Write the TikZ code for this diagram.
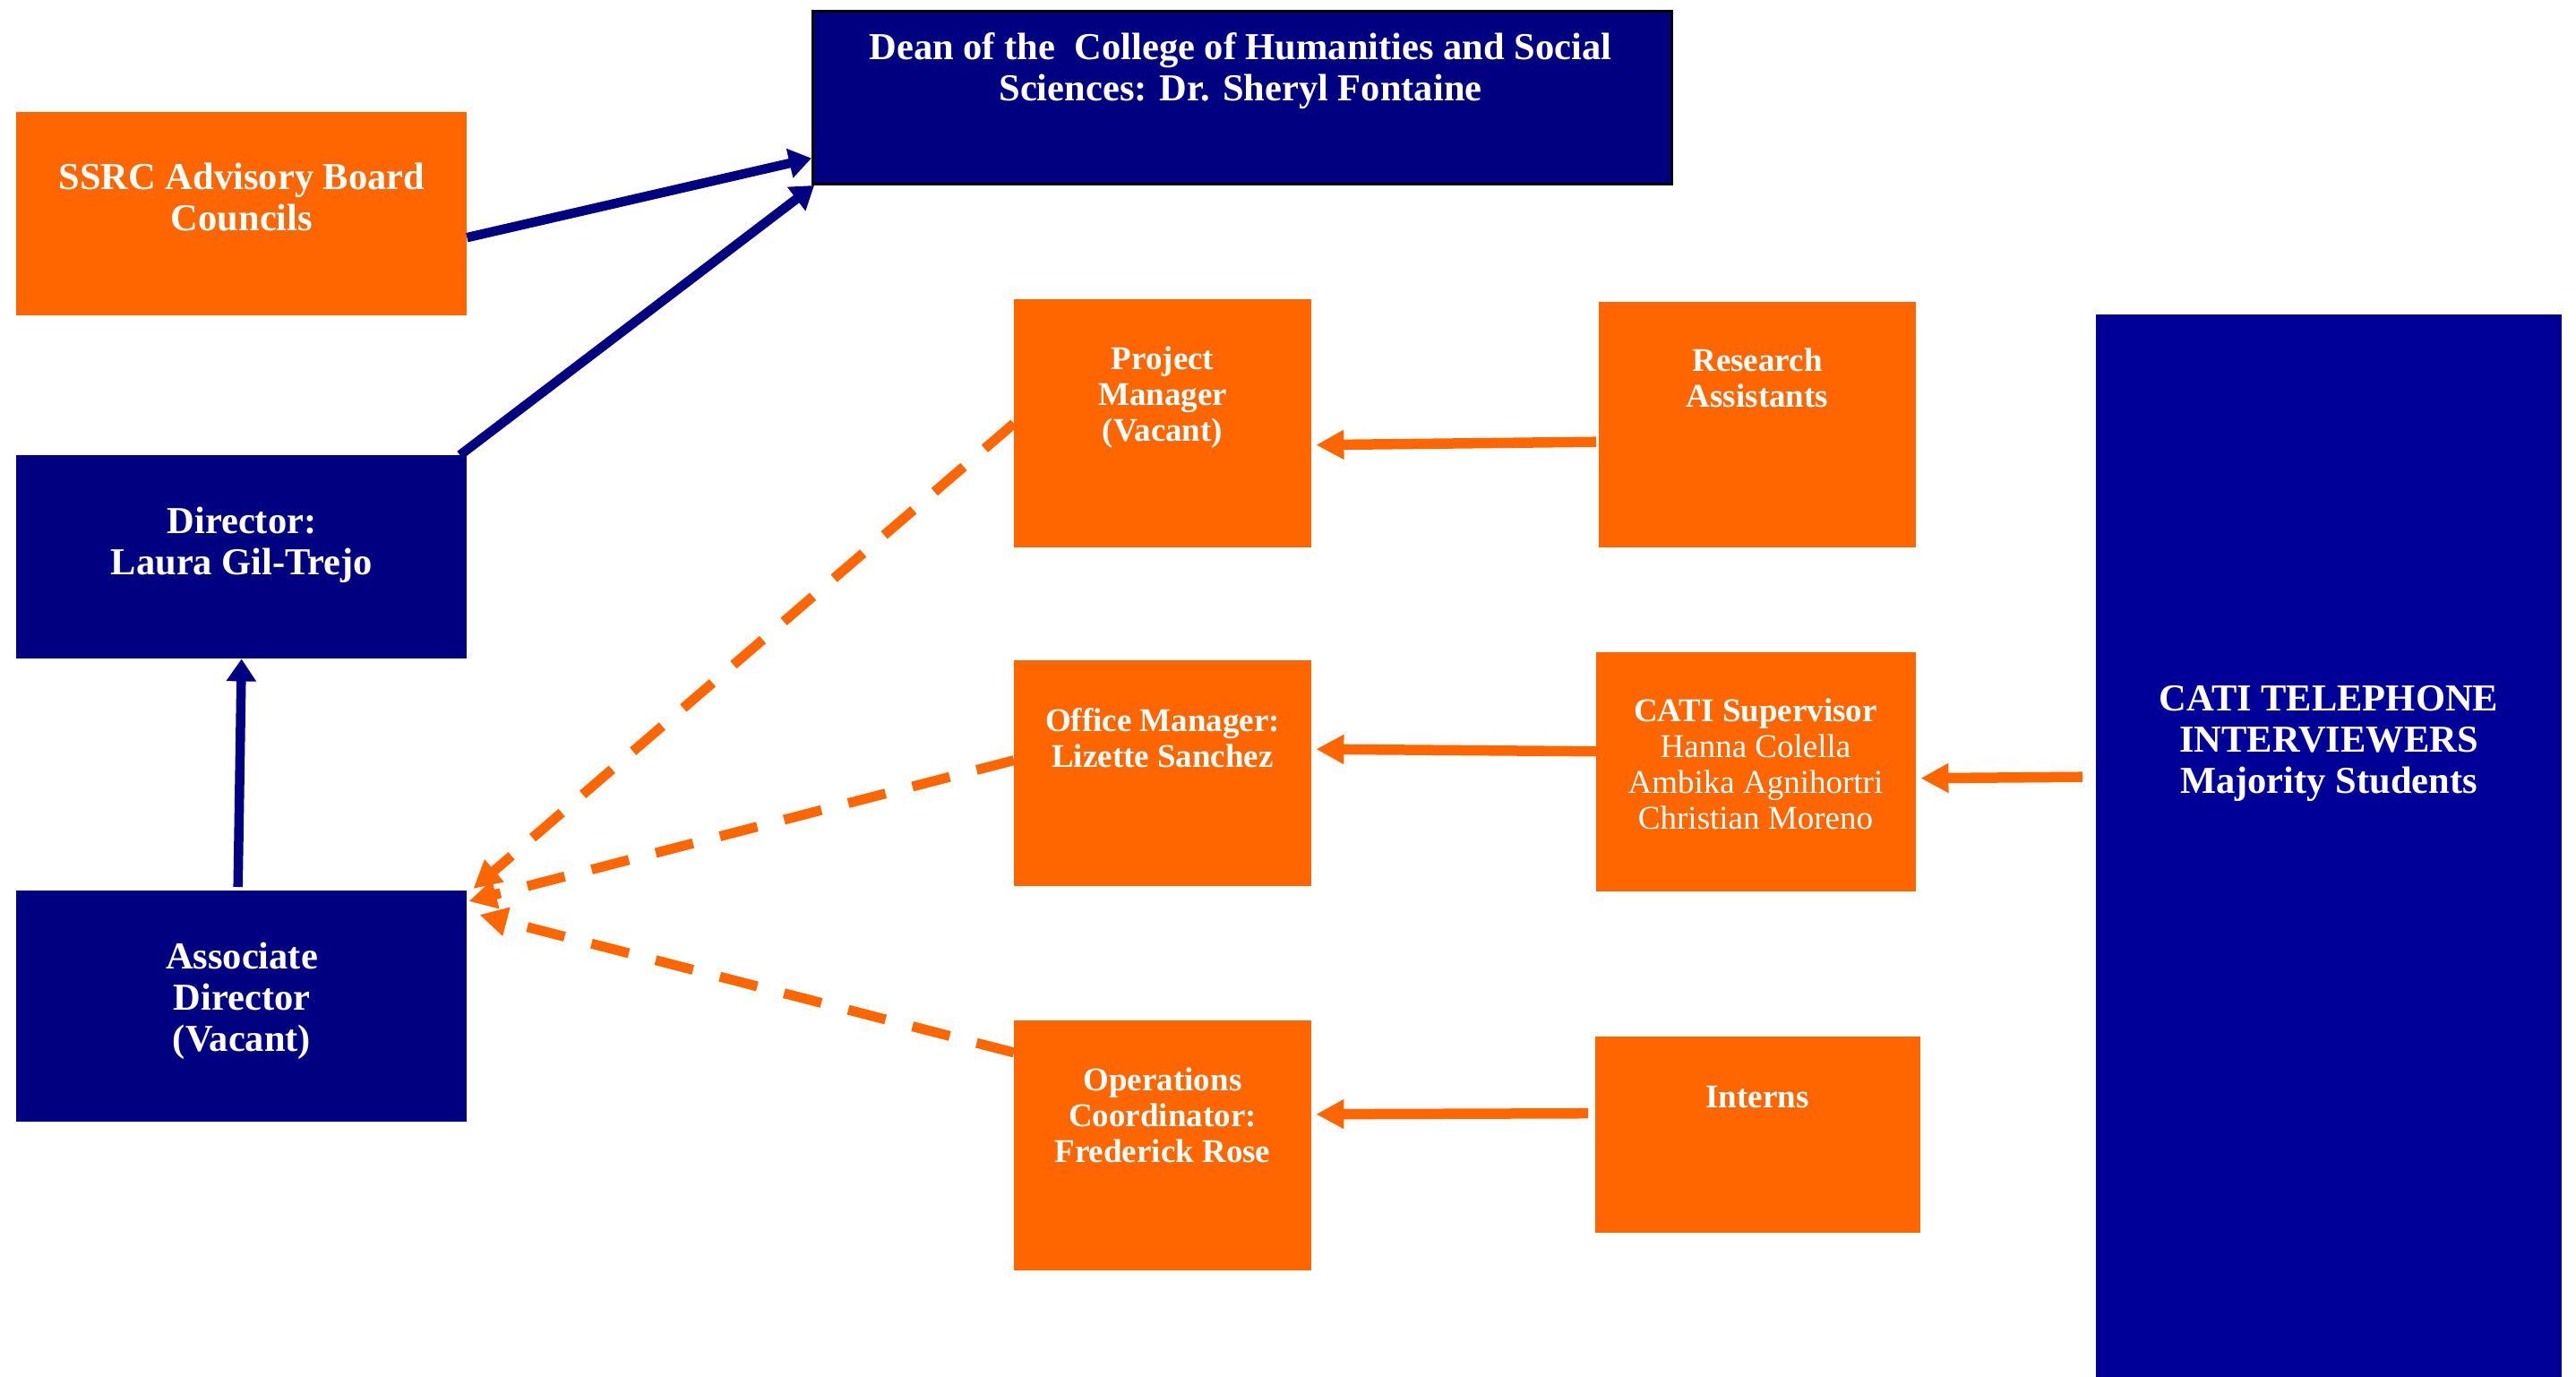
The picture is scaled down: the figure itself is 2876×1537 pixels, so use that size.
\documentclass[tikz,border=0pt]{standalone}
\usepackage{fontspec}
\setmainfont{Liberation Serif}
\usetikzlibrary{arrows.meta}
\definecolor{ssrcorange}{RGB}{255,102,0}
\definecolor{ssrcnavy}{RGB}{0,0,128}
\definecolor{catiblue}{RGB}{0,0,153}

\begin{document}
\begin{tikzpicture}[
  x=1pt, y=-1pt, % Koordinaten in Pixeln, y nach unten
  boxbase/.style={inner sep=0pt, anchor=north west},
  navybox/.style={boxbase, fill=ssrcnavy},
  orangebox/.style={boxbase, fill=ssrcorange},
  bigtext/.style={text=white, align=center, font=\bfseries\fontsize{42.5pt}{46pt}\selectfont},
  midtext/.style={text=white, align=center, font=\bfseries\fontsize{37pt}{40pt}\selectfont},
  navyarrow/.style={draw=ssrcnavy, line width=10.5pt, -{Triangle[length=25pt,width=32pt]}},
  orangearrow/.style={draw=ssrcorange, line width=11.5pt, -{Triangle[length=31pt,width=31pt]}},
  dasharrow/.style={orangearrow, line width=11pt, dash pattern=on 43pt off 31pt}
  ]
\useasboundingbox[fill=white] (0,0) rectangle (2876,1537);
% Leitung
\node[navybox, draw=black, line width=3pt, minimum width=959pt, minimum height=193pt] (dean) at (906,11) {};
\node[bigtext] (dean-t) at (1385,79) {Dean of the\ \ College of Humanities and Social\\Sciences: Dr. Sheryl Fontaine};
\node[orangebox, minimum width=503pt, minimum height=227pt] (ssrc) at (18,125) {};
\node[bigtext] (ssrc-t) at (270,220) {SSRC Advisory Board\\Councils};
\node[navybox, minimum width=503pt, minimum height=227pt] (dir) at (18,508) {};
\node[bigtext] (dir-t) at (270,608) {Director:\\Laura Gil-Trejo};
\node[navybox, minimum width=503pt, minimum height=258pt] (assoc) at (18,994) {};
\node[bigtext] (assoc-t) at (270,1117) {Associate\\Director\\(Vacant)};
% mittlere Spalte
\node[orangebox, minimum width=332pt, minimum height=277pt] (pm) at (1132,334) {};
\node[midtext] (pm-t) at (1298,444) {Project\\Manager\\(Vacant)};
\node[orangebox, minimum width=332pt, minimum height=252pt] (om) at (1132,737) {};
\node[midtext] (om-t) at (1298,824) {Office Manager:\\Lizette Sanchez};
\node[orangebox, minimum width=332pt, minimum height=279pt] (ops) at (1132,1139) {};
\node[midtext] (ops-t) at (1298,1245) {Operations\\Coordinator:\\Frederick Rose};
% rechte Spalte
\node[orangebox, minimum width=354pt, minimum height=274pt] (ra) at (1785,337) {};
\node[midtext] (ra-t) at (1962,422) {Research\\Assistants};
\node[orangebox, minimum width=357pt, minimum height=267pt] (cs) at (1782,728) {};
\node[midtext] (cs-t) at (1960,853) {CATI Supervisor\\\mdseries Hanna Colella\\\mdseries Ambika Agnihortri\\\mdseries Christian Moreno};
\node[orangebox, minimum width=363pt, minimum height=219pt] (int) at (1781,1157) {};
\node[midtext] (int-t) at (1962,1225) {Interns};
\node[navybox, fill=catiblue, minimum width=520pt, minimum height=1186pt] (cati) at (2340,351) {};
\node[bigtext] (cati-t) at (2600,830) {CATI TELEPHONE\\INTERVIEWERS\\Majority Students};
% Pfeile
\draw[navyarrow] (ssrc.-6.4) -- (dean.188.9);
\draw[navyarrow] (dir.25.8) -- ([xshift=3pt]dean.south west);
\draw[navyarrow] ([xshift=-4pt,yshift=4pt]assoc.north) -- (dir.south);
\draw[dasharrow] (pm.west) -- ([xshift=7pt,yshift=2pt]assoc.north east);
\draw[dasharrow] (om.175.2) -- ([xshift=2pt,yshift=-12pt]assoc.north east);
\draw[dasharrow] (ops.148.6) -- ([xshift=14pt,yshift=-27pt]assoc.north east);
\draw[orangearrow] ([xshift=-3pt,yshift=-19pt]ra.west) -- ([xshift=5pt,yshift=-24pt]pm.east);
\draw[orangearrow] ([yshift=23pt]cs.west) -- ([xshift=5pt,yshift=27pt]om.east);
\draw[orangearrow] ([xshift=-8pt,yshift=24pt]int.west) -- ([xshift=5pt,yshift=35pt]ops.east);
\draw[orangearrow] ([xshift=-15pt,yshift=77pt]cati.west) -- ([xshift=5pt,yshift=-7pt]cs.east);
\end{tikzpicture}
\end{document}
